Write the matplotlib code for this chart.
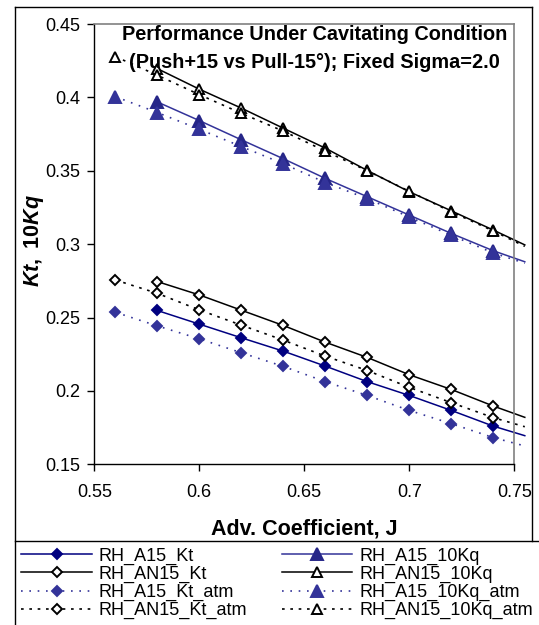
import matplotlib
matplotlib.use("Agg")
import matplotlib.pyplot as plt
from matplotlib.lines import Line2D

plt.rcParams['font.family'] = ['Liberation Sans', 'DejaVu Sans']
plt.rcParams['mathtext.fontset'] = 'custom'
plt.rcParams['mathtext.it'] = 'Liberation Sans:italic:bold'
plt.rcParams['mathtext.bf'] = 'Liberation Sans:bold'
plt.rcParams['mathtext.rm'] = 'Liberation Sans:bold'

# advance coefficient
J_cav = [0.58, 0.60, 0.62, 0.64, 0.66, 0.68, 0.70, 0.72, 0.74]
J_atm = [0.56, 0.58, 0.60, 0.62, 0.64, 0.66, 0.68, 0.70, 0.72, 0.74]
J_END = 0.755  # where the trend lines stop (past the plot edge)

# thrust coefficient, Kt
a15_kt = [0.2548, 0.2455, 0.2362, 0.2271, 0.2169, 0.2063, 0.1969, 0.1867, 0.1760]
an15_kt = [0.2745, 0.2654, 0.2550, 0.2446, 0.2332, 0.2228, 0.2110, 0.2010, 0.1897]
a15_kt_atm = [0.2536, 0.2443, 0.2355, 0.2260, 0.2167, 0.2063, 0.1969, 0.1867, 0.1777, 0.1682]
an15_kt_atm = [0.2756, 0.2665, 0.2552, 0.2448, 0.2346, 0.2237, 0.2139, 0.2024, 0.1920, 0.1818]

# torque coefficient, 10Kq
a15_kq = [0.3969, 0.3842, 0.3711, 0.3582, 0.3448, 0.3323, 0.3198, 0.3073, 0.2955]
an15_kq = [0.4196, 0.4056, 0.3927, 0.3790, 0.3654, 0.3502, 0.3357, 0.3227, 0.3096]
a15_kq_atm = [0.4005, 0.3897, 0.3783, 0.3665, 0.3548, 0.3420, 0.3310, 0.3185, 0.3060, 0.2940]
an15_kq_atm = [0.4278, 0.4151, 0.4019, 0.3892, 0.3770, 0.3634, 0.3500, 0.3360, 0.3220, 0.3090]

# trend line values at J_END
trend_end = {
    'RH_A15_Kt': 0.1695, 'RH_AN15_Kt': 0.1820,
    'RH_A15_Kt_atm': 0.1625, 'RH_AN15_Kt_atm': 0.1756,
    'RH_A15_10Kq': 0.2880, 'RH_AN15_10Kq': 0.2995,
    'RH_A15_10Kq_atm': 0.2870, 'RH_AN15_10Kq_atm': 0.2985,
}

W, H = 539, 625
fig = plt.figure(figsize=(W / 100, H / 100), dpi=100)


def fx(x):
    return x / W


def fy(y):
    return 1 - y / H


ax = fig.add_axes([fx(94.3), fy(464.3), fx(514.3) - fx(94.3), fy(24) - fy(464.3)])

navy = '#000080'
blue = '#333399'
dot_k = (0, (1.6, 3.4))
dot_b = (0, (1.0, 4.0))

series = [
    # label, J, values, line colour, style, marker, ms, face, edge
    ('RH_A15_Kt', J_cav, a15_kt, navy, '-', 'D', 5.2, navy, navy),
    ('RH_AN15_Kt', J_cav, an15_kt, 'black', '-', 'D', 5.0, 'white', 'black'),
    ('RH_A15_Kt_atm', J_atm, a15_kt_atm, blue, dot_b, 'D', 5.2, blue, blue),
    ('RH_AN15_Kt_atm', J_atm, an15_kt_atm, 'black', dot_k, 'D', 5.0, 'white', 'black'),
    ('RH_A15_10Kq', J_cav, a15_kq, blue, '-', '^', 8.0, '#262688', '#262688'),
    ('RH_AN15_10Kq', J_cav, an15_kq, 'black', '-', '^', 7.5, 'white', 'black'),
    ('RH_A15_10Kq_atm', J_atm, a15_kq_atm, blue, dot_b, '^', 8.0, blue, blue),
    ('RH_AN15_10Kq_atm', J_atm, an15_kq_atm, 'black', dot_k, '^', 7.5, 'white', 'black'),
]

handles = []
for name, j, v, c, ls, mk, ms, mfc, mec in series:
    lw = 1.2 if ls != '-' else 1.1
    ax.plot(list(j) + [J_END], list(v) + [trend_end[name]], color=c, ls=ls,
            lw=lw, clip_on=False, zorder=2)
    ax.plot(j, v, ls='none', marker=mk, ms=ms, mfc=mfc, mec=mec, mew=1.4,
            clip_on=False, zorder=3)
    handles.append(Line2D([], [], color=c, ls=ls, lw=lw, marker=mk, ms=ms,
                          mfc=mfc, mec=mec, mew=1.4, label=name))

ax.set_xlim(0.55, 0.75)
ax.set_ylim(0.15, 0.45)
ax.set_xticks([0.55, 0.6, 0.65, 0.7, 0.75])
ax.set_yticks([0.15, 0.2, 0.25, 0.3, 0.35, 0.4, 0.45])
ax.set_xticklabels(['0.55', '0.6', '0.65', '0.7', '0.75'])
ax.set_yticklabels(['0.15', '0.2', '0.25', '0.3', '0.35', '0.4', '0.45'])
ax.tick_params(labelsize=13, length=5, width=1, direction='out')
ax.tick_params(axis='x', pad=9)
ax.tick_params(axis='y', pad=5)
for s in ['top', 'right']:
    ax.spines[s].set_color('#808080')
    ax.spines[s].set_linewidth(1.2)
for s in ['left', 'bottom']:
    ax.spines[s].set_linewidth(1.0)

# title inside the plot
fig.text(fx(314.5), fy(39.5), 'Performance Under Cavitating Condition',
         ha='center', va='baseline', fontsize=14.3, fontweight='bold')
fig.text(fx(314), fy(68.5), '(Push+15 vs Pull-15°); Fixed Sigma=2.0',
         ha='center', va='baseline', fontsize=14.3, fontweight='bold')

# axis labels
fig.text(fx(304), fy(534), 'Adv. Coefficient, J', ha='center', va='baseline',
         fontsize=15.5, fontweight='bold')
fig.text(fx(34), fy(240), r'$\mathit{Kt}\mathbf{,\ 10}\mathit{Kq}$',
         ha='center', va='center', rotation=90, fontsize=15.5)

# outer chart frame and legend box
frame = dict(transform=fig.transFigure, color='black', lw=1.0)
fig.add_artist(Line2D([fx(15), fx(531.7)], [fy(7), fy(7)], **frame))
fig.add_artist(Line2D([fx(15), fx(15)], [fy(7), fy(624)], **frame))
fig.add_artist(Line2D([fx(531.7), fx(531.7)], [fy(7), fy(541)], **frame))
fig.add_artist(Line2D([fx(15), fx(539)], [fy(541), fy(541)], **frame))

fig.legend(handles=handles, ncol=2, loc='upper left',
           bbox_to_anchor=(fx(16), fy(542)), frameon=False, fontsize=13,
           handlelength=3.9, handletextpad=0.39, columnspacing=1.9,
           labelspacing=0.06, borderpad=0.3, borderaxespad=0, numpoints=1)

fig.savefig('out.png', dpi=100)
